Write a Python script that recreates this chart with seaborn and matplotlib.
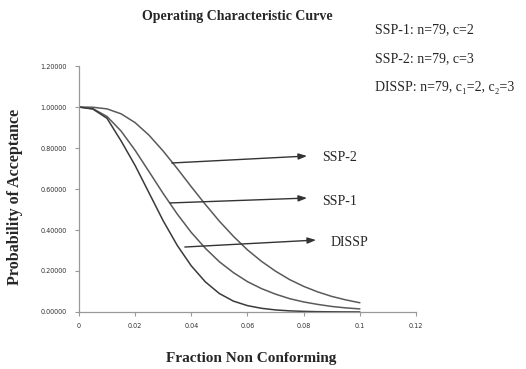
import matplotlib
matplotlib.use("Agg")
import matplotlib.pyplot as plt
import seaborn as sns
import pandas as pd
from matplotlib.ticker import FormatStrFormatter

# ---- data ----
fraction = [0.0, 0.005, 0.01, 0.015, 0.02, 0.025, 0.03, 0.035, 0.04, 0.045, 0.05,
            0.055, 0.06, 0.065, 0.07, 0.075, 0.08, 0.085, 0.09, 0.095, 0.1]
ssp1 = [1.0, 0.992, 0.954, 0.883, 0.789, 0.684, 0.578, 0.478, 0.388, 0.311, 0.245,
        0.192, 0.148, 0.114, 0.087, 0.065, 0.049, 0.037, 0.027, 0.020, 0.015]
ssp2 = [1.0, 0.999, 0.991, 0.967, 0.924, 0.862, 0.785, 0.700, 0.611, 0.525, 0.443,
        0.369, 0.303, 0.247, 0.199, 0.158, 0.125, 0.098, 0.076, 0.059, 0.045]
dissp = [1.0, 0.990, 0.945, 0.835, 0.715, 0.580, 0.445, 0.325, 0.225, 0.147, 0.090,
         0.053, 0.031, 0.018, 0.010, 0.0055, 0.003, 0.0015, 0.0008, 0.0004, 0.0002]
series_names = ["SSP-2", "SSP-1", "DISSP"]
x_ticks = [0, 0.02, 0.04, 0.06, 0.08, 0.1, 0.12]
x_tick_labels = ["0", "0.02", "0.04", "0.06", "0.08", "0.1", "0.12"]
y_ticks = [0.0, 0.2, 0.4, 0.6, 0.8, 1.0, 1.2]
legend_lines = ["SSP-1: n=79, c=2", "SSP-2: n=79, c=3", "DISSP: n=79, c\u2081=2, c\u2082=3"]

df = pd.concat([
    pd.DataFrame({"p": fraction, "Pa": ssp2, "plan": series_names[0]}),
    pd.DataFrame({"p": fraction, "Pa": ssp1, "plan": series_names[1]}),
    pd.DataFrame({"p": fraction, "Pa": dissp, "plan": series_names[2]}),
])

sns.set_style("white")
plt.rcParams["font.family"] = ["Liberation Serif", "DejaVu Serif"]

fig = plt.figure(figsize=(5.26, 3.69), dpi=100)
ax = fig.add_axes([0.150, 0.1545, 0.641, 0.6665])

palette = {"SSP-2": "#5a5a5a", "SSP-1": "#5a5a5a", "DISSP": "#3a3a3a"}
sns.lineplot(data=df, x="p", y="Pa", hue="plan", palette=palette, ax=ax,
             legend=False, linewidth=1.1, sort=True)

ax.set_xlim(0, 0.12)
ax.set_ylim(0, 1.2)
ax.set_xticks(x_ticks)
ax.set_xticklabels(x_tick_labels)
ax.set_yticks(y_ticks)
ax.yaxis.set_major_formatter(FormatStrFormatter("%.5f"))
for lab in ax.get_xticklabels() + ax.get_yticklabels():
    lab.set_fontfamily("DejaVu Sans")
    lab.set_fontsize(4.7)
    lab.set_color("#333333")
ax.tick_params(axis="both", length=3, width=0.8, color="#999999", pad=6,
               direction="out", left=True, bottom=True)
ax.tick_params(axis="x", pad=5)

for s in ["top", "right"]:
    ax.spines[s].set_visible(False)
for s in ["left", "bottom"]:
    ax.spines[s].set_color("#999999")
    ax.spines[s].set_linewidth(0.9)

ax.set_xlabel("Fraction Non Conforming", fontsize=11, fontweight="bold")
ax.set_ylabel("Probability of Acceptance", fontsize=11.5, fontweight="bold")
ax.xaxis.set_label_coords(0.51, -0.163)
ax.yaxis.set_label_coords(-0.165, 0.467)

fig.text(0.452, 0.955, "Operating Characteristic Curve", fontsize=10,
         fontweight="bold", ha="center", va="center")

for i, t in enumerate(legend_lines):
    fig.text(0.713, 0.919 - i * 0.078, t, fontsize=10, ha="left", va="center")

# annotation arrows
arrows = [
    ("SSP-2", (0.0331, 0.727), (0.0812, 0.761), (0.0865, 0.756)),
    ("SSP-1", (0.0324, 0.532), (0.0812, 0.556), (0.0865, 0.541)),
    ("DISSP", (0.0377, 0.317), (0.0844, 0.351), (0.0894, 0.337)),
]
for name, start, end, txt in arrows:
    ax.annotate("", xy=end, xytext=start,
                arrowprops=dict(arrowstyle="-|>,head_length=0.5,head_width=0.18",
                                color="#333333", lw=1.0, shrinkA=0, shrinkB=0))
    ax.text(txt[0], txt[1], name, fontsize=10, ha="left", va="center",
            clip_on=False)

fig.savefig("out.png", dpi=100)
